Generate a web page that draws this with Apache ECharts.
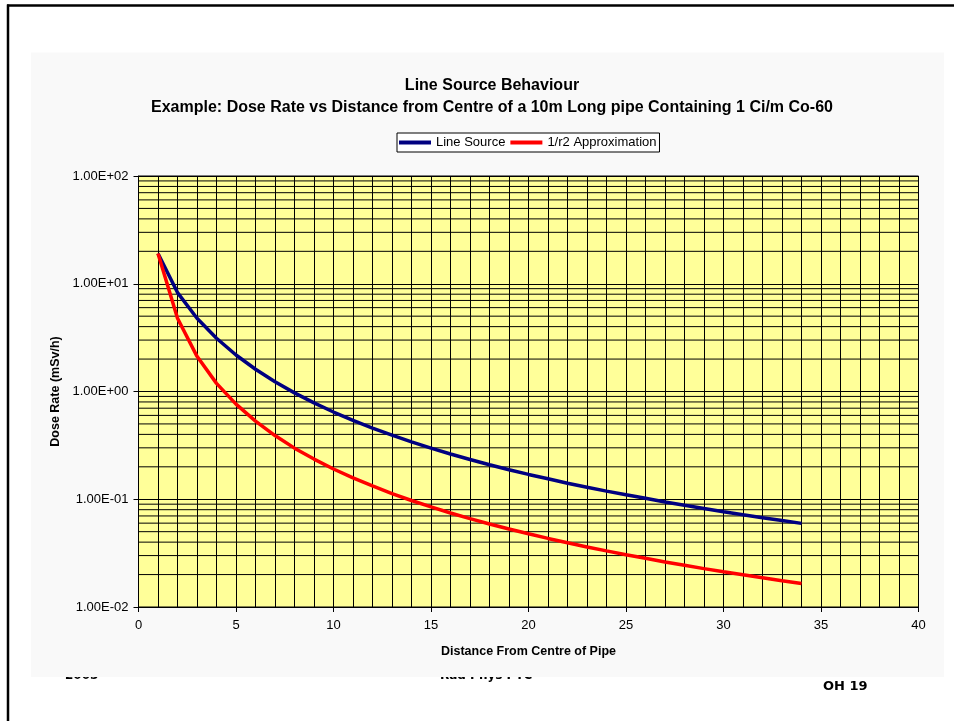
<!DOCTYPE html>
<html>
<head>
<meta charset="utf-8">
<script src="https://cdn.jsdelivr.net/npm/echarts@6/dist/echarts.min.js"></script>
<style>
  html, body { margin: 0; padding: 0; background: #ffffff; }
  #chart { width: 954px; height: 721px; }
</style>
</head>
<body>
<div id="chart"></div>
<script>
// ---- chart data ----
const titleLine1 = 'Line Source Behaviour';
const titleLine2 = 'Example: Dose Rate vs Distance from Centre of a 10m Long pipe Containing 1 Ci/m Co-60';
const seriesNames = ['Line Source', '1/r2 Approximation'];
const xAxisName = 'Distance From Centre of Pipe';
const yAxisName = 'Dose Rate (mSv/h)';

const distances = [1, 2, 3, 4, 5, 6, 7, 8, 9, 10, 11, 12, 13, 14, 15, 16, 17,
  18, 19, 20, 21, 22, 23, 24, 25, 26, 27, 28, 29, 30, 31, 32, 33, 34];

const lineSource = [19.1, 8.28, 4.78, 3.12, 2.18, 1.61, 1.23, 0.971, 0.784, 0.645,
  0.539, 0.458, 0.393, 0.341, 0.298, 0.263, 0.234, 0.209, 0.188, 0.170,
  0.155, 0.141, 0.129, 0.119, 0.110, 0.102, 0.0943, 0.0878, 0.0819, 0.0766,
  0.0717, 0.0674, 0.0634, 0.0597];

const inverseSquare = [19.1, 4.78, 2.12, 1.19, 0.764, 0.531, 0.390, 0.298, 0.236, 0.191,
  0.158, 0.133, 0.113, 0.0974, 0.0849, 0.0746, 0.0661, 0.0590, 0.0529, 0.0478,
  0.0433, 0.0395, 0.0361, 0.0332, 0.0306, 0.0283, 0.0262, 0.0244, 0.0227, 0.0212,
  0.0199, 0.0187, 0.0175, 0.0165];

const yTickValues = [0.01, 0.1, 1, 10, 100];
const yTickLabels = ['1.00E-02', '1.00E-01', '1.00E+00', '1.00E+01', '1.00E+02'];
const xTickLabels = ['0', '5', '10', '15', '20', '25', '30', '35', '40'];

const footerYear = '2005';
const footerMid = 'Rad Phys PTC';
const footerRight = 'OH 19';

// minor log gridlines (2..9 within each decade) — axis decoration, not data
const yMinorGrid = [];
for (let i = 0; i < yTickValues.length - 1; i++) {
  for (let k = 2; k <= 9; k++) yMinorGrid.push(+(k * yTickValues[i]).toPrecision(3));
}

const chart = echarts.init(document.getElementById('chart'));
const FONT = '"Liberation Sans", Arial, sans-serif';

const option = {
  animation: false,
  backgroundColor: '#ffffff',
  title: {
    text: titleLine1 + '\n' + titleLine2,
    left: 487,
    textAlign: 'center',
    top: 70,
    textStyle: { fontFamily: FONT, fontSize: 16, fontWeight: 'bold', color: '#000', lineHeight: 22 }
  },
  legend: {
    data: seriesNames,
    left: 397,
    top: 133,
    icon: 'rect',
    itemWidth: 32,
    itemHeight: 4,
    itemGap: 5,
    padding: [3, 3, 3, 2],
    borderColor: '#000',
    borderWidth: 1,
    backgroundColor: '#ffffff',
    textStyle: { fontFamily: FONT, fontSize: 13, color: '#000' }
  },
  graphic: [
    { type: 'text', z: -20, left: 65, top: 669.5, style: { text: footerYear, font: 'bold 12px "DejaVu Sans"', fill: '#000' } },
    { type: 'text', z: -20, left: 440, top: 669.5, style: { text: footerMid, font: 'bold 12px "DejaVu Sans"', fill: '#000' } },
    { type: 'rect', z: -10, silent: true, shape: { x: 31, y: 52.5, width: 913, height: 624.5 }, style: { fill: '#f9f9f9' } },
    { type: 'line', z: -5, shape: { x1: 8, y1: 4.5, x2: 8, y2: 721 }, style: { stroke: '#000', lineWidth: 2.5 } },
    { type: 'line', z: -5, shape: { x1: 7, y1: 5.5, x2: 954, y2: 5.5 }, style: { stroke: '#000', lineWidth: 2.5 } },
    { type: 'text', left: 823, top: 680, style: { text: footerRight, font: 'bold 13px "DejaVu Sans"', fill: '#000' } }
  ],
  grid: {
    left: 138.5,
    right: 35.5,
    top: 176,
    bottom: 114,
    containLabel: false,
    show: true,
    backgroundColor: '#ffff99',
    borderColor: '#000',
    borderWidth: 1
  },
  xAxis: [
    {
      type: 'value', min: 0, max: 40, interval: 1,
      axisLine: { show: false }, axisTick: { show: false }, axisLabel: { show: false },
      splitLine: { show: true, lineStyle: { color: '#000', width: 1 } }
    },
    {
      type: 'value', min: 0, max: 40, interval: 5, position: 'bottom',
      name: xAxisName, nameLocation: 'middle', nameGap: 38,
      nameTextStyle: { fontFamily: FONT, fontSize: 12.5, fontWeight: 'bold', color: '#000' },
      axisLine: { show: true, lineStyle: { color: '#000', width: 1 } },
      axisTick: { show: true, length: 5, lineStyle: { color: '#000' } },
      axisLabel: { fontFamily: FONT, fontSize: 13, color: '#000', margin: 12,
        formatter: (v) => xTickLabels[Math.round(v / 5)] },
      splitLine: { show: false }
    }
  ],
  yAxis: {
    type: 'log', logBase: 10, min: 0.01, max: 100,
    name: yAxisName, nameLocation: 'middle', nameGap: 72,
    nameTextStyle: { fontFamily: FONT, fontSize: 12.5, fontWeight: 'bold', color: '#000' },
    axisLine: { show: true, lineStyle: { color: '#000', width: 1 } },
    axisTick: { show: true, length: 5, lineStyle: { color: '#000' } },
    axisLabel: { fontFamily: FONT, fontSize: 13, color: '#000', margin: 10,
      formatter: (v) => {
        const i = yTickValues.findIndex(t => Math.abs(Math.log10(t) - Math.log10(v)) < 1e-6);
        return i >= 0 ? yTickLabels[i] : '';
      } },
    splitLine: { show: true, lineStyle: { color: '#000', width: 1 } }
  },
  series: [
    {
      type: 'custom', name: 'minorGrid', silent: true, z: 1,
      xAxisIndex: 0, yAxisIndex: 0,
      data: yMinorGrid.map(v => [0, v]),
      encode: { x: 0, y: 1 },
      renderItem: (params, api) => {
        const cs = params.coordSys;
        const p = api.coord([0, api.value(1)]);
        return { type: 'line', shape: { x1: cs.x, y1: p[1], x2: cs.x + cs.width, y2: p[1] },
          style: { stroke: '#000', lineWidth: 1 } };
      }
    },
    {
      type: 'line', name: seriesNames[0], xAxisIndex: 1, z: 3,
      data: distances.map((d, i) => [d, lineSource[i]]),
      showSymbol: false, symbol: 'none', smooth: false,
      lineStyle: { color: '#000080', width: 3.5 },
      itemStyle: { color: '#000080' }
    },
    {
      type: 'line', name: seriesNames[1], xAxisIndex: 1, z: 4,
      data: distances.map((d, i) => [d, inverseSquare[i]]),
      showSymbol: false, symbol: 'none', smooth: false,
      lineStyle: { color: '#ff0000', width: 3.5 },
      itemStyle: { color: '#ff0000' }
    }
  ]
};
chart.setOption(option);
</script>
</body>
</html>
